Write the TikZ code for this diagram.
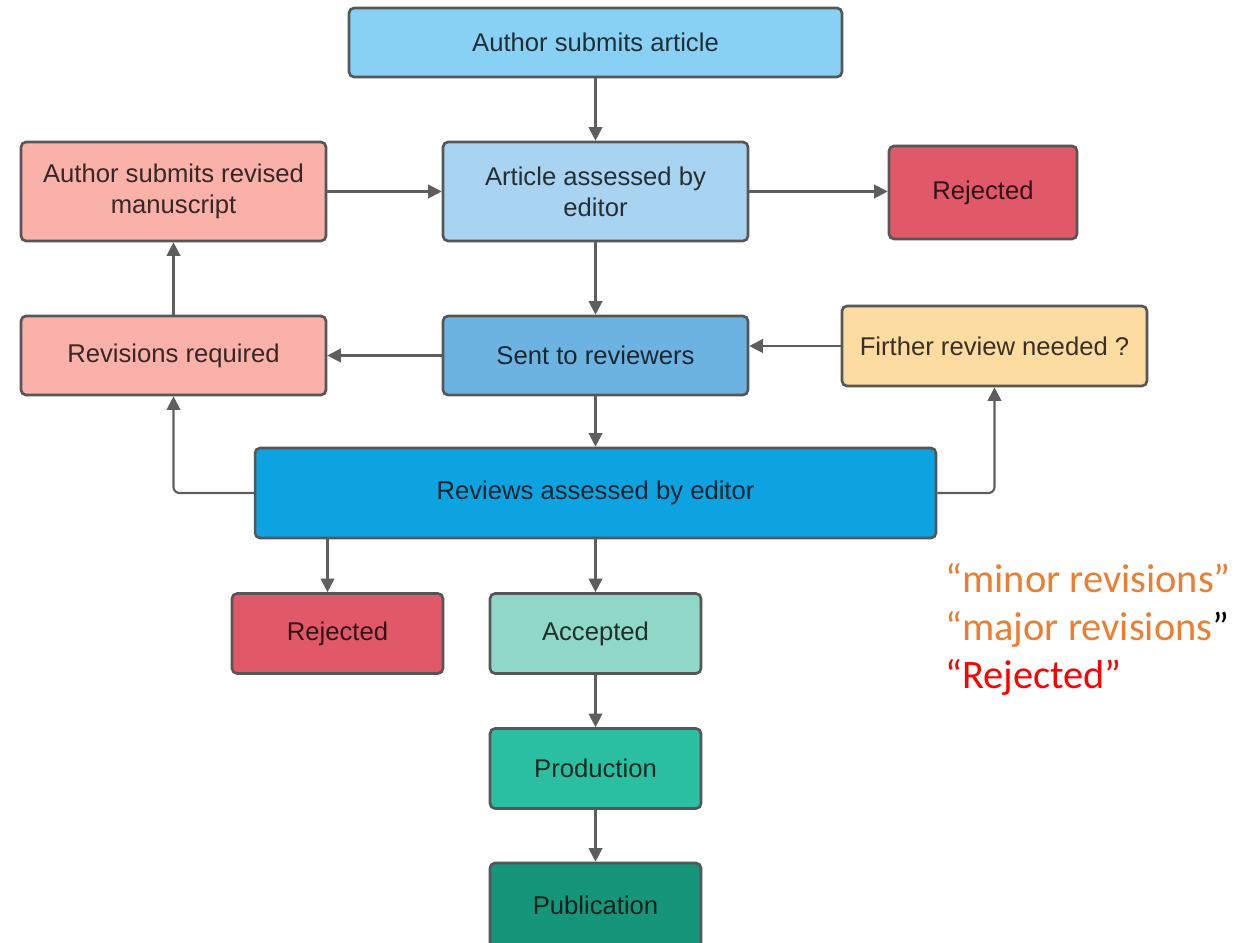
\documentclass[tikz,border=0pt]{standalone}
\usepackage{fontspec}
\setmainfont{Liberation Sans}
\newfontfamily\notefont{Carlito}
\usetikzlibrary{arrows.meta}

\definecolor{boxline}{HTML}{565656}
\definecolor{flowgray}{HTML}{5E5E5E}
\definecolor{submitblue}{HTML}{89D1F4}
\definecolor{assessblue}{HTML}{A9D4F1}
\definecolor{sentblue}{HTML}{6CB3E2}
\definecolor{reviewblue}{HTML}{0CA3E0}
\definecolor{revpink}{HTML}{F9B1A9}
\definecolor{rejred}{HTML}{E15869}
\definecolor{furtherorange}{HTML}{FDDCA1}
\definecolor{acceptgreen}{HTML}{8FD8C8}
\definecolor{prodgreen}{HTML}{2BBFA1}
\definecolor{pubgreen}{HTML}{15967B}
\definecolor{noteorange}{HTML}{ED7D31}
\definecolor{notered}{HTML}{FF0000}

\tikzset{
  box/.style={draw=boxline, line width=1.5pt, rounded corners=0.1cm,
    fill=#1, text=#1!22!black, align=center,
    font=\fontsize{14.6}{17.6}\selectfont},
  flow/.style={->, flowgray, line width=1.2pt},
  note/.style={anchor=base west, inner sep=0pt,
    font=\notefont\fontsize{23}{27}\selectfont}
}

\begin{document}
\begin{tikzpicture}[x=0.02cm,y=-0.02cm,>={Triangle[length=0.27cm,width=0.27cm]}]
  \useasboundingbox (0,0) rectangle (1245,943);

  \node[box=submitblue,minimum width=9.86cm,minimum height=1.38cm] (submit) at (595.5,42.5) {Author submits article};
  \node[box=assessblue,minimum width=6.1cm,minimum height=1.98cm] (assess) at (595.5,191.5) {Article assessed by\\editor};
  \node[box=revpink,minimum width=6.1cm,minimum height=1.98cm] (revised) at (173.5,191.5) {Author submits revised\\manuscript};
  \node[box=rejred,minimum width=3.76cm,minimum height=1.86cm] (rejtop) at (983,192.5) {Rejected};
  \node[box=revpink,minimum width=6.1cm,minimum height=1.58cm] (revreq) at (173.5,355.5) {Revisions required};
  \node[box=sentblue,minimum width=6.1cm,minimum height=1.58cm] (sent) at (595.5,355.5) {Sent to reviewers};
  \node[box=furtherorange,minimum width=6.1cm,minimum height=1.6cm] (further) at (994.5,346) {Firther review needed ?};
  \node[box=reviewblue,minimum width=13.62cm,minimum height=1.8cm] (reviews) at (595.5,493) {Reviews assessed by editor};
  \node[box=rejred,minimum width=4.22cm,minimum height=1.6cm] (rejbot) at (337.5,633.5) {Rejected};
  \node[box=acceptgreen,minimum width=4.22cm,minimum height=1.6cm] (accepted) at (595.5,633.5) {Accepted};
  \node[box=prodgreen,minimum width=4.22cm,minimum height=1.6cm] (production) at (595.5,768.5) {Production};
  \node[box=pubgreen,minimum width=4.22cm,minimum height=1.7cm] (publication) at (595.5,905.5) {Publication};

  \draw[flow] (submit) -- (assess);
  \draw[flow] (revised) -- (assess);
  \draw[flow] (assess.east) -- (assess.east -| rejtop.west);
  \draw[flow] (assess) -- (sent);
  \draw[flow] (sent) -- (revreq);
  \draw[flow] (revreq) -- (revised);
  \draw[flow] (further.west) -- (further.west -| sent.east);
  \draw[flow] (sent) -- (reviews);
  \draw[flow,rounded corners=0.12cm] (reviews.west) -| (revreq.south);
  \draw[flow,rounded corners=0.12cm] (reviews.east) -| (further.south);
  \draw[flow] ([xshift=-0.2cm]rejbot.north |- reviews.south) -- ([xshift=-0.2cm]rejbot.north);
  \draw[flow] (reviews) -- (accepted);
  \draw[flow] (accepted) -- (production);
  \draw[flow] (production) -- (publication);

  \node[note,text=noteorange] (minor) at (945,592) {“minor revisions”};
  \node[note,text=noteorange] (major) at (945,640) {“major revisions\textcolor{black}{”}};
  \node[note,text=notered] (rejnote) at (945,688) {“Rejected”};
\end{tikzpicture}
\end{document}
